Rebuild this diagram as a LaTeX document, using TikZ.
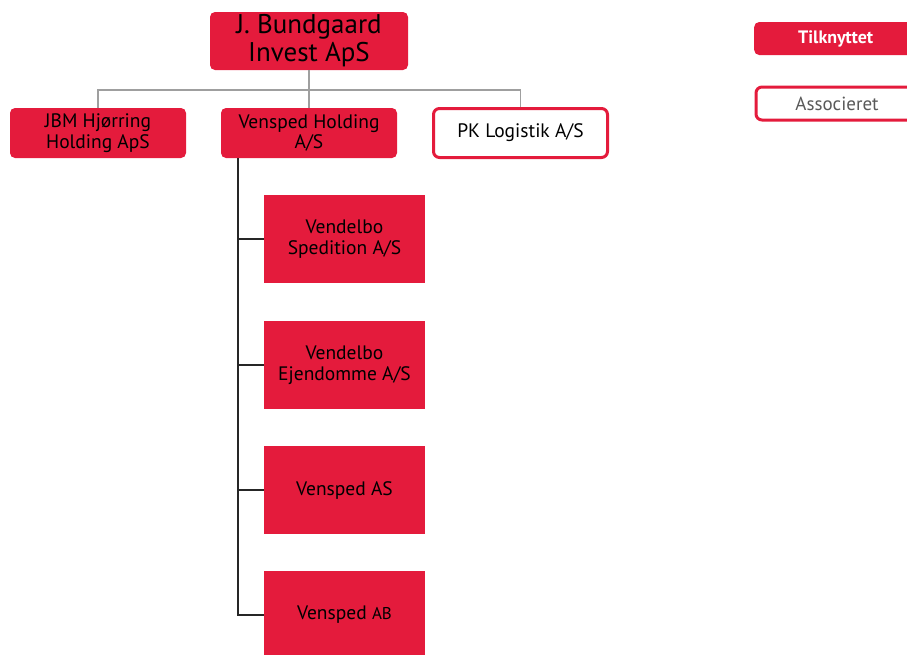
\documentclass[tikz,border=0pt]{standalone}
\usepackage{fontspec}
\setmainfont{PT Sans}
\begin{document}
\begin{tikzpicture}[x=1pt,y=-1pt,
  redbox/.style={fill=brandred,draw=none,rounded corners=5pt,align=center,inner sep=0pt,font=\fontsize{19.5}{20.5}\selectfont},
  whitebox/.style={fill=white,draw=brandred,line width=3pt,rounded corners=6pt,align=center,inner sep=0pt,font=\fontsize{19.5}{20.5}\selectfont},
  childbox/.style={fill=brandred,draw=none,align=center,inner sep=0pt,minimum width=161pt,minimum height=88pt,font=\fontsize{19.5}{20.5}\selectfont},
  grayline/.style={draw=gray!75,line width=1.3pt},
  blackline/.style={draw=black!85,line width=1.3pt}]
\definecolor{brandred}{HTML}{E41B3C}
\useasboundingbox (0,0) rectangle (907,654);
\begin{scope}
\clip (0,0) rectangle (907,654);
% top
\node[redbox,minimum width=198pt,minimum height=58pt,font=\fontsize{27}{28}\selectfont] (top) at (309,41) {J. Bundgaard\\Invest ApS};
% second row
\node[redbox,minimum width=176pt,minimum height=50pt] (jbm) at (98,133) {JBM Hjørring\\Holding ApS};
\node[redbox,minimum width=176pt,minimum height=50pt] (vh) at (309,133) {Vensped Holding\\A/S};
\node[whitebox,minimum width=174pt,minimum height=49pt] (pk) at (520.5,133) {PK Logistik A/S};
% children
\node[childbox] (c1) at (344.5,239) {Vendelbo\\Spedition A/S};
\node[childbox] (c2) at (344.5,365) {Vendelbo\\Ejendomme A/S};
\node[childbox] (c3) at (344.5,490) {Vensped AS};
\node[childbox] (c4) at (344.5,615) {Vensped \fontsize{17}{19}\selectfont AB};
% legend
\node[redbox,minimum width=170pt,minimum height=33pt,anchor=west,text=white,font=\bfseries\fontsize{18}{20}\selectfont] (leg1) at (754,38.5) {\hspace*{-7pt}Tilknyttet};
\node[whitebox,minimum width=170pt,minimum height=33pt,anchor=west,text=black!65,font=\fontsize{19}{20}\selectfont] (leg2) at (754.5,103.5) {\hspace*{-8pt}Associeret};
% connectors
\coordinate (hb) at (309,90);
\draw[grayline] (top.south) -- (hb);
\draw[grayline] (jbm.north) |- (hb) -| (pk.north);
\draw[grayline] (hb) -- (vh.north);
\coordinate (trunk) at (238,158);
\draw[blackline] (trunk) |- (c4.west);
\draw[blackline] (c1.west) -- (c1.west -| trunk);
\draw[blackline] (c2.west) -- (c2.west -| trunk);
\draw[blackline] (c3.west) -- (c3.west -| trunk);
\end{scope}
\end{tikzpicture}
\end{document}
